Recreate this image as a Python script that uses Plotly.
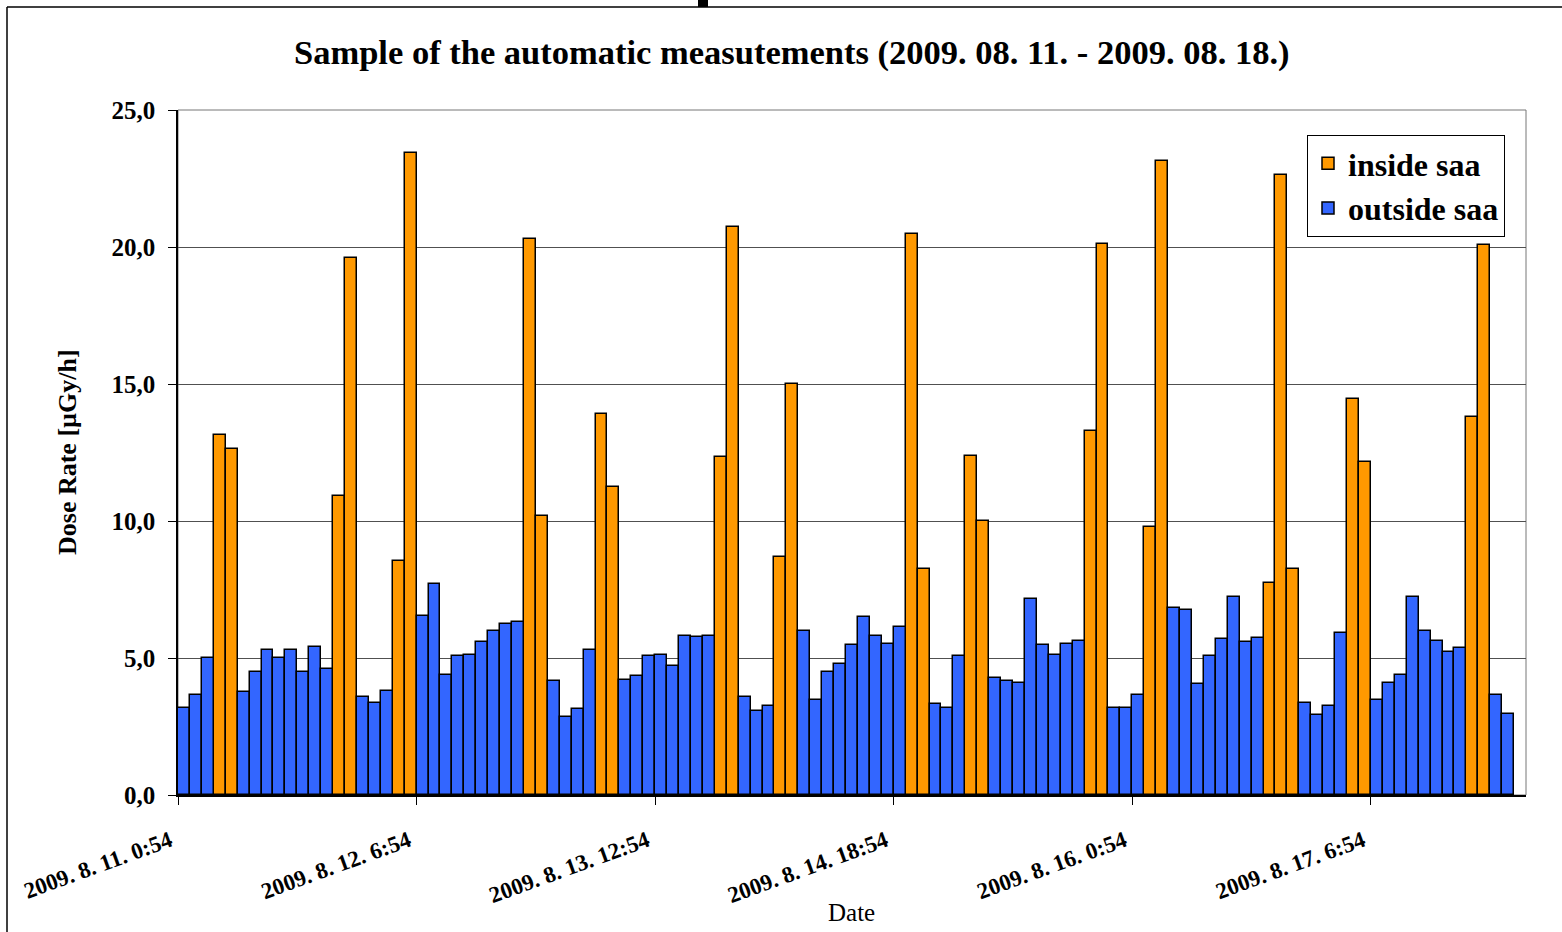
import plotly.graph_objects as go

# ---- data ----
tick_labels = ["2009. 8. 11. 0:54", "2009. 8. 12. 6:54", "2009. 8. 13. 12:54",
               "2009. 8. 14. 18:54", "2009. 8. 16. 0:54", "2009. 8. 17. 6:54"]
tick_index = [0, 20, 40, 60, 80, 100]
n_categories = 113

N = None
inside_saa = [
    N, N, N, 13.14, 12.63, N, N, N, N, N,
    N, N, N, 10.91, 19.60, N, N, N, 8.53, 23.43,
    N, N, N, N, N, N, N, N, N, 20.29,
    10.17, N, N, N, N, 13.92, 11.25, N, N, N,
    N, N, N, N, N, 12.32, 20.73, N, N, N,
    8.70, 15.00, N, N, N, N, N, N, N, N,
    N, 20.47, 8.24, N, N, N, 12.38, 10.00, N, N,
    N, N, N, N, N, N, 13.30, 20.11, N, N,
    N, 9.78, 23.14, N, N, N, N, N, N, N,
    N, 7.74, 22.63, 8.24, N, N, N, N, 14.45, 12.17,
    N, N, N, N, N, N, N, N, 13.81, 20.07,
    N, N, N,
]
outside_saa = [
    3.19, 3.65, 5.01, N, N, 3.75, 4.50, 5.29, 5.01, 5.29,
    4.50, 5.40, 4.61, N, N, 3.59, 3.36, 3.81, N, N,
    6.55, 7.69, 4.38, 5.06, 5.12, 5.57, 5.99, 6.25, 6.33, N,
    N, 4.15, 2.85, 3.13, 5.30, N, N, 4.21, 4.33, 5.06,
    5.12, 4.72, 5.82, 5.75, 5.82, N, N, 3.59, 3.08, 3.25,
    N, N, 5.99, 3.47, 4.50, 4.78, 5.46, 6.48, 5.82, 5.52,
    6.14, N, N, 3.31, 3.19, 5.06, N, N, 4.27, 4.15,
    4.10, 7.17, 5.46, 5.12, 5.52, 5.63, N, N, 3.19, 3.19,
    3.65, N, N, 6.82, 6.76, 4.04, 5.06, 5.69, 7.21, 5.57,
    5.74, N, N, N, 3.36, 2.91, 3.25, 5.91, N, N,
    3.47, 4.10, 4.38, 7.21, 5.99, 5.63, 5.23, 5.35, N, N,
    3.65, 2.97, N,
]

x_pos = [i + 0.5 for i in range(n_categories)]

FONT = "Palatino Linotype, Book Antiqua, Liberation Serif, serif"

fig = go.Figure()
fig.add_bar(x=x_pos, y=inside_saa, width=1, name="inside saa",
            marker=dict(color="#FF9900", line=dict(color="black", width=1.5)))
fig.add_bar(x=x_pos, y=outside_saa, width=1, name="outside saa",
            marker=dict(color="#3366FF", line=dict(color="black", width=1.5)))

W, H = 1562, 932
L, R, T, B = 178, 1526, 110, 795


def px(xp):
    return (xp - L) / (R - L)


def py(yp):
    return (B - yp) / (B - T)


fig.update_layout(
    width=W, height=H,
    margin=dict(l=L, r=W - R, t=T, b=H - B, pad=0),
    paper_bgcolor="white", plot_bgcolor="white",
    barmode="overlay", bargap=0,
    separators=", ",
    font=dict(family=FONT, color="black"),
    showlegend=True,
    legend=dict(x=px(1307), y=py(135), xanchor="left", yanchor="top",
                bgcolor="white", bordercolor="black", borderwidth=1,
                font=dict(family=FONT, size=32, color="black", weight="bold"),
                itemwidth=30, tracegroupgap=0),
    xaxis=dict(range=[0, n_categories], tickmode="array",
               tickvals=tick_index, ticktext=tick_labels,
               tickangle=-20, ticks="outside", ticklen=8, tickcolor="black",
               showline=True, linecolor="black", linewidth=1.5,
               showgrid=False, zeroline=False,
               ticklabelstandoff=14, ticklabelshift=-8,
               tickfont=dict(family=FONT, size=23, color="black", weight="bold")),
    yaxis=dict(range=[0, 25], tickvals=[0, 5, 10, 15, 20, 25], tickformat=".1f",
               ticks="outside", ticklen=8, tickcolor="black",
               showline=True, linecolor="black", linewidth=1.5,
               showgrid=True, gridcolor="#505050", gridwidth=1,
               zeroline=False, ticklabelstandoff=8,
               tickfont=dict(family=FONT, size=25, color="black", weight="bold")),
)

annotations = [
    dict(text="<b>Sample of the automatic measutements (2009. 08. 11. - 2009. 08. 18.)</b>",
         x=px(792), y=py(53), xref="paper", yref="paper", showarrow=False,
         xanchor="center", yanchor="middle",
         font=dict(family=FONT, size=34.5, color="black")),
    dict(text="<b>Dose Rate [µGy/h]</b>", textangle=-90,
         x=px(67), y=py(452), xref="paper", yref="paper", showarrow=False,
         xanchor="center", yanchor="middle",
         font=dict(family=FONT, size=26, color="black")),
    dict(text="Date", x=px(851), y=py(912), xref="paper", yref="paper",
         showarrow=False, xanchor="center", yanchor="middle",
         font=dict(family=FONT, size=25, color="black")),
]
fig.update_layout(annotations=annotations)

shapes = [
    # plot area border (right/top grey)
    dict(type="rect", xref="paper", yref="paper", x0=0, x1=1, y0=0, y1=1,
         line=dict(color="#777777", width=1), layer="below"),
    # chart frame: left and top edges
    dict(type="line", xref="paper", yref="paper", x0=px(7), x1=px(7), y0=py(7), y1=py(940),
         line=dict(color="black", width=1.5)),
    dict(type="line", xref="paper", yref="paper", x0=px(7), x1=px(1570), y0=py(7), y1=py(7),
         line=dict(color="black", width=1.5)),
    # small dark mark at top edge
    dict(type="rect", xref="paper", yref="paper", x0=px(698), x1=px(708), y0=py(7), y1=py(-1),
         line=dict(width=0), fillcolor="black"),
]
fig.update_layout(shapes=shapes)

fig.write_html("out.html", config={"displayModeBar": False},
               post_script="document.body.style.margin='0';")
